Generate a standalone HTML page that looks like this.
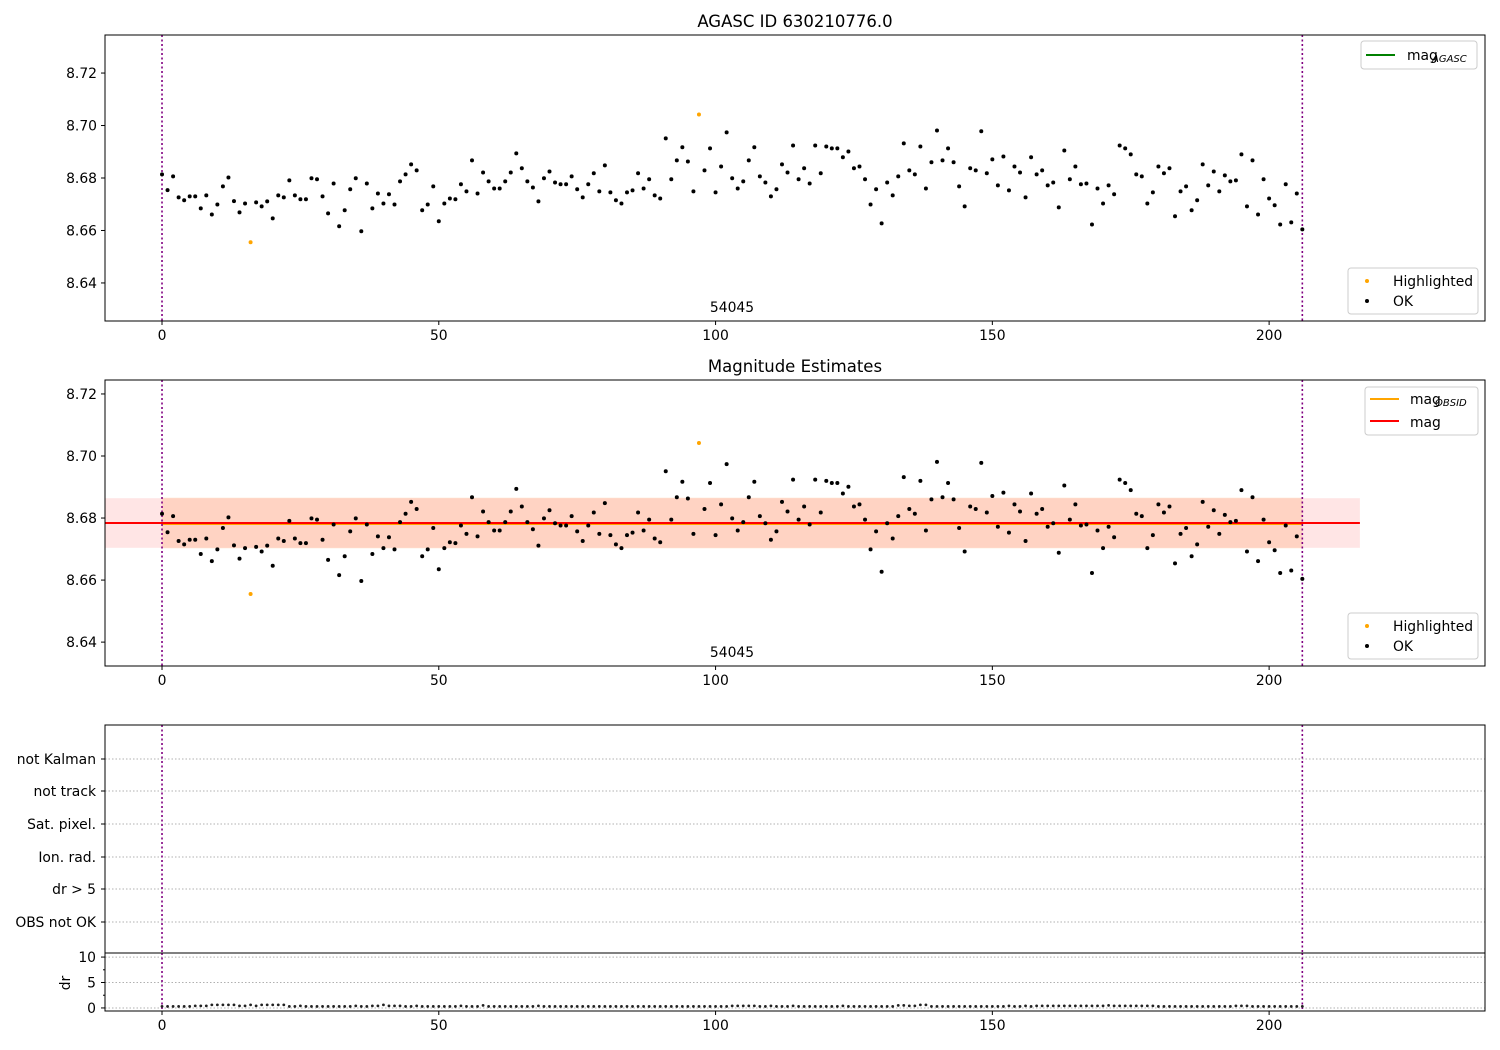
<!DOCTYPE html>
<html><head><meta charset="utf-8"><style>
body{margin:0;background:#fff;}
svg{display:block;font-family:"DejaVu Sans","Liberation Sans",sans-serif;}
</style></head><body>
<svg id="fig" width="1500" height="1050" xmlns="http://www.w3.org/2000/svg"></svg>
<script>
const magValues=[8.6814,8.6754,8.6806,8.6726,8.6715,8.6730,8.6730,8.6684,8.6734,8.6661,8.6699,8.6768,8.6802,8.6712,8.6669,8.6703,8.6555,8.6707,8.6692,8.6711,
8.6646,8.6734,8.6726,8.6791,8.6734,8.6719,8.6719,8.6799,8.6795,8.6730,8.6665,8.6779,8.6616,8.6677,8.6757,8.6799,8.6597,8.6779,8.6684,8.6741,
8.6703,8.6738,8.6699,8.6787,8.6814,8.6852,8.6829,8.6677,8.6699,8.6768,8.6635,8.6703,8.6722,8.6719,8.6776,8.6749,8.6867,8.6741,8.6821,8.6787,
8.6760,8.6760,8.6787,8.6821,8.6894,8.6837,8.6787,8.6764,8.6711,8.6799,8.6825,8.6783,8.6776,8.6776,8.6806,8.6757,8.6726,8.6776,8.6818,8.6749,
8.6848,8.6745,8.6715,8.6703,8.6745,8.6753,8.6818,8.6760,8.6795,8.6734,8.6722,8.6951,8.6795,8.6867,8.6917,8.6863,8.6749,8.7042,8.6829,8.6913,
8.6745,8.6844,8.6974,8.6799,8.6760,8.6787,8.6867,8.6917,8.6806,8.6783,8.6730,8.6757,8.6852,8.6821,8.6924,8.6795,8.6837,8.6779,8.6924,8.6818,
8.6920,8.6913,8.6913,8.6879,8.6901,8.6837,8.6844,8.6795,8.6699,8.6757,8.6627,8.6783,8.6734,8.6806,8.6932,8.6829,8.6814,8.6920,8.6760,8.6860,
8.6981,8.6867,8.6913,8.6860,8.6768,8.6692,8.6837,8.6829,8.6978,8.6818,8.6871,8.6772,8.6882,8.6753,8.6844,8.6821,8.6726,8.6879,8.6814,8.6829,
8.6772,8.6783,8.6688,8.6905,8.6795,8.6844,8.6776,8.6779,8.6623,8.6760,8.6703,8.6772,8.6738,8.6924,8.6913,8.6890,8.6814,8.6806,8.6703,8.6745,
8.6844,8.6818,8.6837,8.6654,8.6749,8.6768,8.6677,8.6715,8.6852,8.6772,8.6825,8.6749,8.6810,8.6787,8.6791,8.6890,8.6692,8.6867,8.6661,8.6795,
8.6722,8.6696,8.6623,8.6776,8.6631,8.6741,8.6604];
const highlighted=[16,97];
const drValues=[0.3,0.3,0.3,0.3,0.3,0.3,0.4,0.4,0.4,0.6,0.6,0.6,0.6,0.6,0.4,0.4,0.6,0.4,0.6,0.6,
0.6,0.6,0.6,0.3,0.3,0.4,0.3,0.3,0.3,0.3,0.3,0.3,0.3,0.3,0.3,0.4,0.3,0.3,0.4,0.4,
0.6,0.4,0.4,0.4,0.3,0.3,0.4,0.3,0.3,0.3,0.3,0.3,0.3,0.3,0.4,0.3,0.3,0.3,0.5,0.3,
0.3,0.3,0.3,0.3,0.3,0.3,0.3,0.3,0.4,0.3,0.3,0.3,0.3,0.3,0.3,0.3,0.3,0.3,0.3,0.3,
0.3,0.3,0.3,0.3,0.3,0.3,0.3,0.3,0.3,0.3,0.3,0.3,0.3,0.3,0.3,0.3,0.3,0.3,0.3,0.3,
0.3,0.3,0.3,0.4,0.4,0.4,0.4,0.4,0.3,0.3,0.4,0.3,0.3,0.3,0.4,0.3,0.3,0.3,0.3,0.3,
0.3,0.3,0.3,0.4,0.3,0.3,0.3,0.3,0.3,0.3,0.3,0.3,0.3,0.5,0.5,0.4,0.4,0.6,0.6,0.3,
0.3,0.3,0.3,0.3,0.3,0.3,0.3,0.3,0.3,0.3,0.3,0.3,0.3,0.4,0.3,0.3,0.4,0.3,0.4,0.4,
0.4,0.4,0.4,0.4,0.4,0.4,0.4,0.4,0.4,0.4,0.4,0.5,0.4,0.4,0.4,0.4,0.4,0.4,0.4,0.4,
0.3,0.3,0.3,0.3,0.3,0.3,0.3,0.3,0.3,0.3,0.3,0.3,0.3,0.3,0.4,0.4,0.4,0.3,0.3,0.3,
0.3,0.3,0.3,0.3,0.3,0.3,0.3];
const xTicks=[0,50,100,150,200];
const topYTicks=[8.64,8.66,8.68,8.70,8.72];
const midYTicks=[8.64,8.66,8.68,8.70,8.72];
const flagLabels=["not Kalman","not track","Sat. pixel.","Ion. rad.","dr > 5","OBS not OK"];
const drTicks=[0,5,10];
const meanMag=8.6784, magErr=0.0080;

const NS="http://www.w3.org/2000/svg";
const svg=document.getElementById('fig');
function el(tag,attrs,parent){const e=document.createElementNS(NS,tag);for(const k in attrs)e.setAttribute(k,attrs[k]);(parent||svg).appendChild(e);return e;}
function txt(s,x,y,attrs,parent){const t=el('text',Object.assign({x:x,y:y,'font-size':13.9,fill:'#000'},attrs||{}),parent);t.textContent=s;return t;}
const X0=105,X1=1485,xmin=-10.3,xmax=239;
const sx=v=>X0+(v-xmin)/(xmax-xmin)*(X1-X0);

function panel(name,top,bot,ymin,ymax,yticks,title){
  const g=el('g',{});
  
  
  const sy=v=>bot-(v-ymin)/(ymax-ymin)*(bot-top);
  if(title){const t=txt(title,795,top-8,{'text-anchor':'middle','font-size':16.5},g);}
  yticks.forEach(v=>{const y=sy(v);el('line',{x1:X0-4,x2:X0,y1:y,y2:y,stroke:'#000'},g);
    const t=txt(v.toFixed(2),X0-8,y+5,{'text-anchor':'end'},g);});
  xticks(g,bot);
  return {g,sy};
}
function xticks(g,bot){xTicks.forEach(v=>{const x=sx(v);el('line',{x1:x,x2:x,y1:bot,y2:bot+4,stroke:'#000'},g);
    const t=txt(String(v),x,bot+19,{'text-anchor':'middle'},g);});}
function vlines(g,top,bot){[0,206].forEach(v=>{el('line',{x1:sx(v),x2:sx(v),y1:top,y2:bot,stroke:'#800080','stroke-width':1.6,'stroke-dasharray':'2,2.5'},g);});}
function points(g,sy){magValues.forEach((v,i)=>{const c=el('circle',{cx:sx(i),cy:sy(v),r:2,fill:highlighted.includes(i)?'#ffa500':'#000'},g);
  });}
function ptLegend(g,x,y){el('rect',{x:x,y:y,width:130,height:46,fill:'#fff',stroke:'#ccc',rx:3},g);
  el('circle',{cx:x+19,cy:y+13,r:2,fill:'#ffa500'},g);txt('Highlighted',x+45,y+18,{},g);
  el('circle',{cx:x+19,cy:y+33,r:2,fill:'#000'},g);txt('OK',x+45,y+38,{},g);}

// Panel 1
const p1=panel('agasc-panel',35,321,8.6255,8.7345,topYTicks,'AGASC ID 630210776.0');
vlines(p1.g,35,321);points(p1.g,p1.sy);
txt('54045',732,312,{'text-anchor':'middle'},p1.g);
const lg1=el('g',{},p1.g);
el('rect',{x:1361,y:41,width:116,height:28,fill:'#fff',stroke:'#ccc',rx:3},lg1);
el('line',{x1:1366,x2:1395,y1:55,y2:55,stroke:'#008000','stroke-width':2},lg1);
txt('mag',1407,60,{},lg1);txt('AGASC',1432,62,{'font-size':10,'font-style':'italic'},lg1);
const lp1=el('g',{},p1.g);ptLegend(lp1,1348,268);
el('rect',{x:X0,y:35,width:X1-X0,height:286,fill:'none',stroke:'#000'},p1.g);

// Panel 2
const p2=panel('magnitude-estimates-panel',380,666,8.6323,8.7245,midYTicks,'Magnitude Estimates');
const bx1=sx(216.4);
el('rect',{x:X0,y:p2.sy(meanMag+magErr),width:bx1-X0,height:p2.sy(meanMag-magErr)-p2.sy(meanMag+magErr),fill:'#ff0000','fill-opacity':0.1},p2.g);
el('rect',{x:sx(0),y:p2.sy(meanMag+magErr)-0.5,width:sx(206)-sx(0),height:p2.sy(meanMag-magErr)-p2.sy(meanMag+magErr)+1,fill:'#ff8c3c','fill-opacity':0.2},p2.g);
el('line',{x1:sx(0),x2:sx(206),y1:p2.sy(meanMag)+1,y2:p2.sy(meanMag)+1,stroke:'#ffa500','stroke-width':2},p2.g);
el('line',{x1:X0,x2:bx1,y1:p2.sy(meanMag),y2:p2.sy(meanMag),stroke:'#ff0000','stroke-width':2},p2.g);
vlines(p2.g,380,666);points(p2.g,p2.sy);
txt('54045',732,657,{'text-anchor':'middle'},p2.g);
const lg2=el('g',{},p2.g);
el('rect',{x:1365,y:387,width:113,height:48,fill:'#fff',stroke:'#ccc',rx:3},lg2);
el('line',{x1:1370,x2:1399,y1:399,y2:399,stroke:'#ffa500','stroke-width':2},lg2);
txt('mag',1410,404,{},lg2);txt('OBSID',1435,406,{'font-size':10,'font-style':'italic'},lg2);
el('line',{x1:1370,x2:1399,y1:421,y2:421,stroke:'#ff0000','stroke-width':2},lg2);
txt('mag',1410,427,{},lg2);
const lp2=el('g',{},p2.g);ptLegend(lp2,1348,613);
el('rect',{x:X0,y:380,width:X1-X0,height:286,fill:'none',stroke:'#000'},p2.g);

// Panel 3 flags
const g3=el('g',{});
const flagY=[759,791,824,857,889,922];
flagLabels.forEach((s,i)=>{const y=flagY[i];
  el('line',{x1:X0,x2:X1,y1:y,y2:y,stroke:'#b0b0b0','stroke-dasharray':'1.5,2'},g3);
  el('line',{x1:X0-4,x2:X0,y1:y,y2:y,stroke:'#000'},g3);
  const t=txt(s,X0-9,y+5,{'text-anchor':'end'},g3);});
vlines(g3,725,953);
el('rect',{x:X0,y:725,width:X1-X0,height:228,fill:'none',stroke:'#000'},g3);

// dr panel
const g4=el('g',{});
const dTop=953,dBot=1011,dmin=-0.6,dmax=10.8;
const sd=v=>dBot-(v-dmin)/(dmax-dmin)*(dBot-dTop);
drTicks.forEach(v=>{const y=sd(v);el('line',{x1:X0,x2:X1,y1:y,y2:y,stroke:'#b0b0b0','stroke-dasharray':'1.5,2'},g4);
  el('line',{x1:X0-4,x2:X0,y1:y,y2:y,stroke:'#000'},g4);
  const t=txt(String(v),X0-9,y+5,{'text-anchor':'end'},g4);});
[2.5,7.5].forEach(v=>el('line',{x1:X0-2,x2:X0,y1:sd(v),y2:sd(v),stroke:'#000'},g4));
const yl=txt('dr',70,983,{'text-anchor':'middle',transform:'rotate(-90 70 983)'},g4);
vlines(g4,dTop,dBot);
drValues.forEach((v,i)=>{const c=el('circle',{cx:sx(i),cy:sd(v),r:1.4,fill:'#222'},g4);
  });
xticks(g4,dBot);
el('rect',{x:X0,y:dTop,width:X1-X0,height:dBot-dTop,fill:'none',stroke:'#000'},g4);
</script>
</body></html>
